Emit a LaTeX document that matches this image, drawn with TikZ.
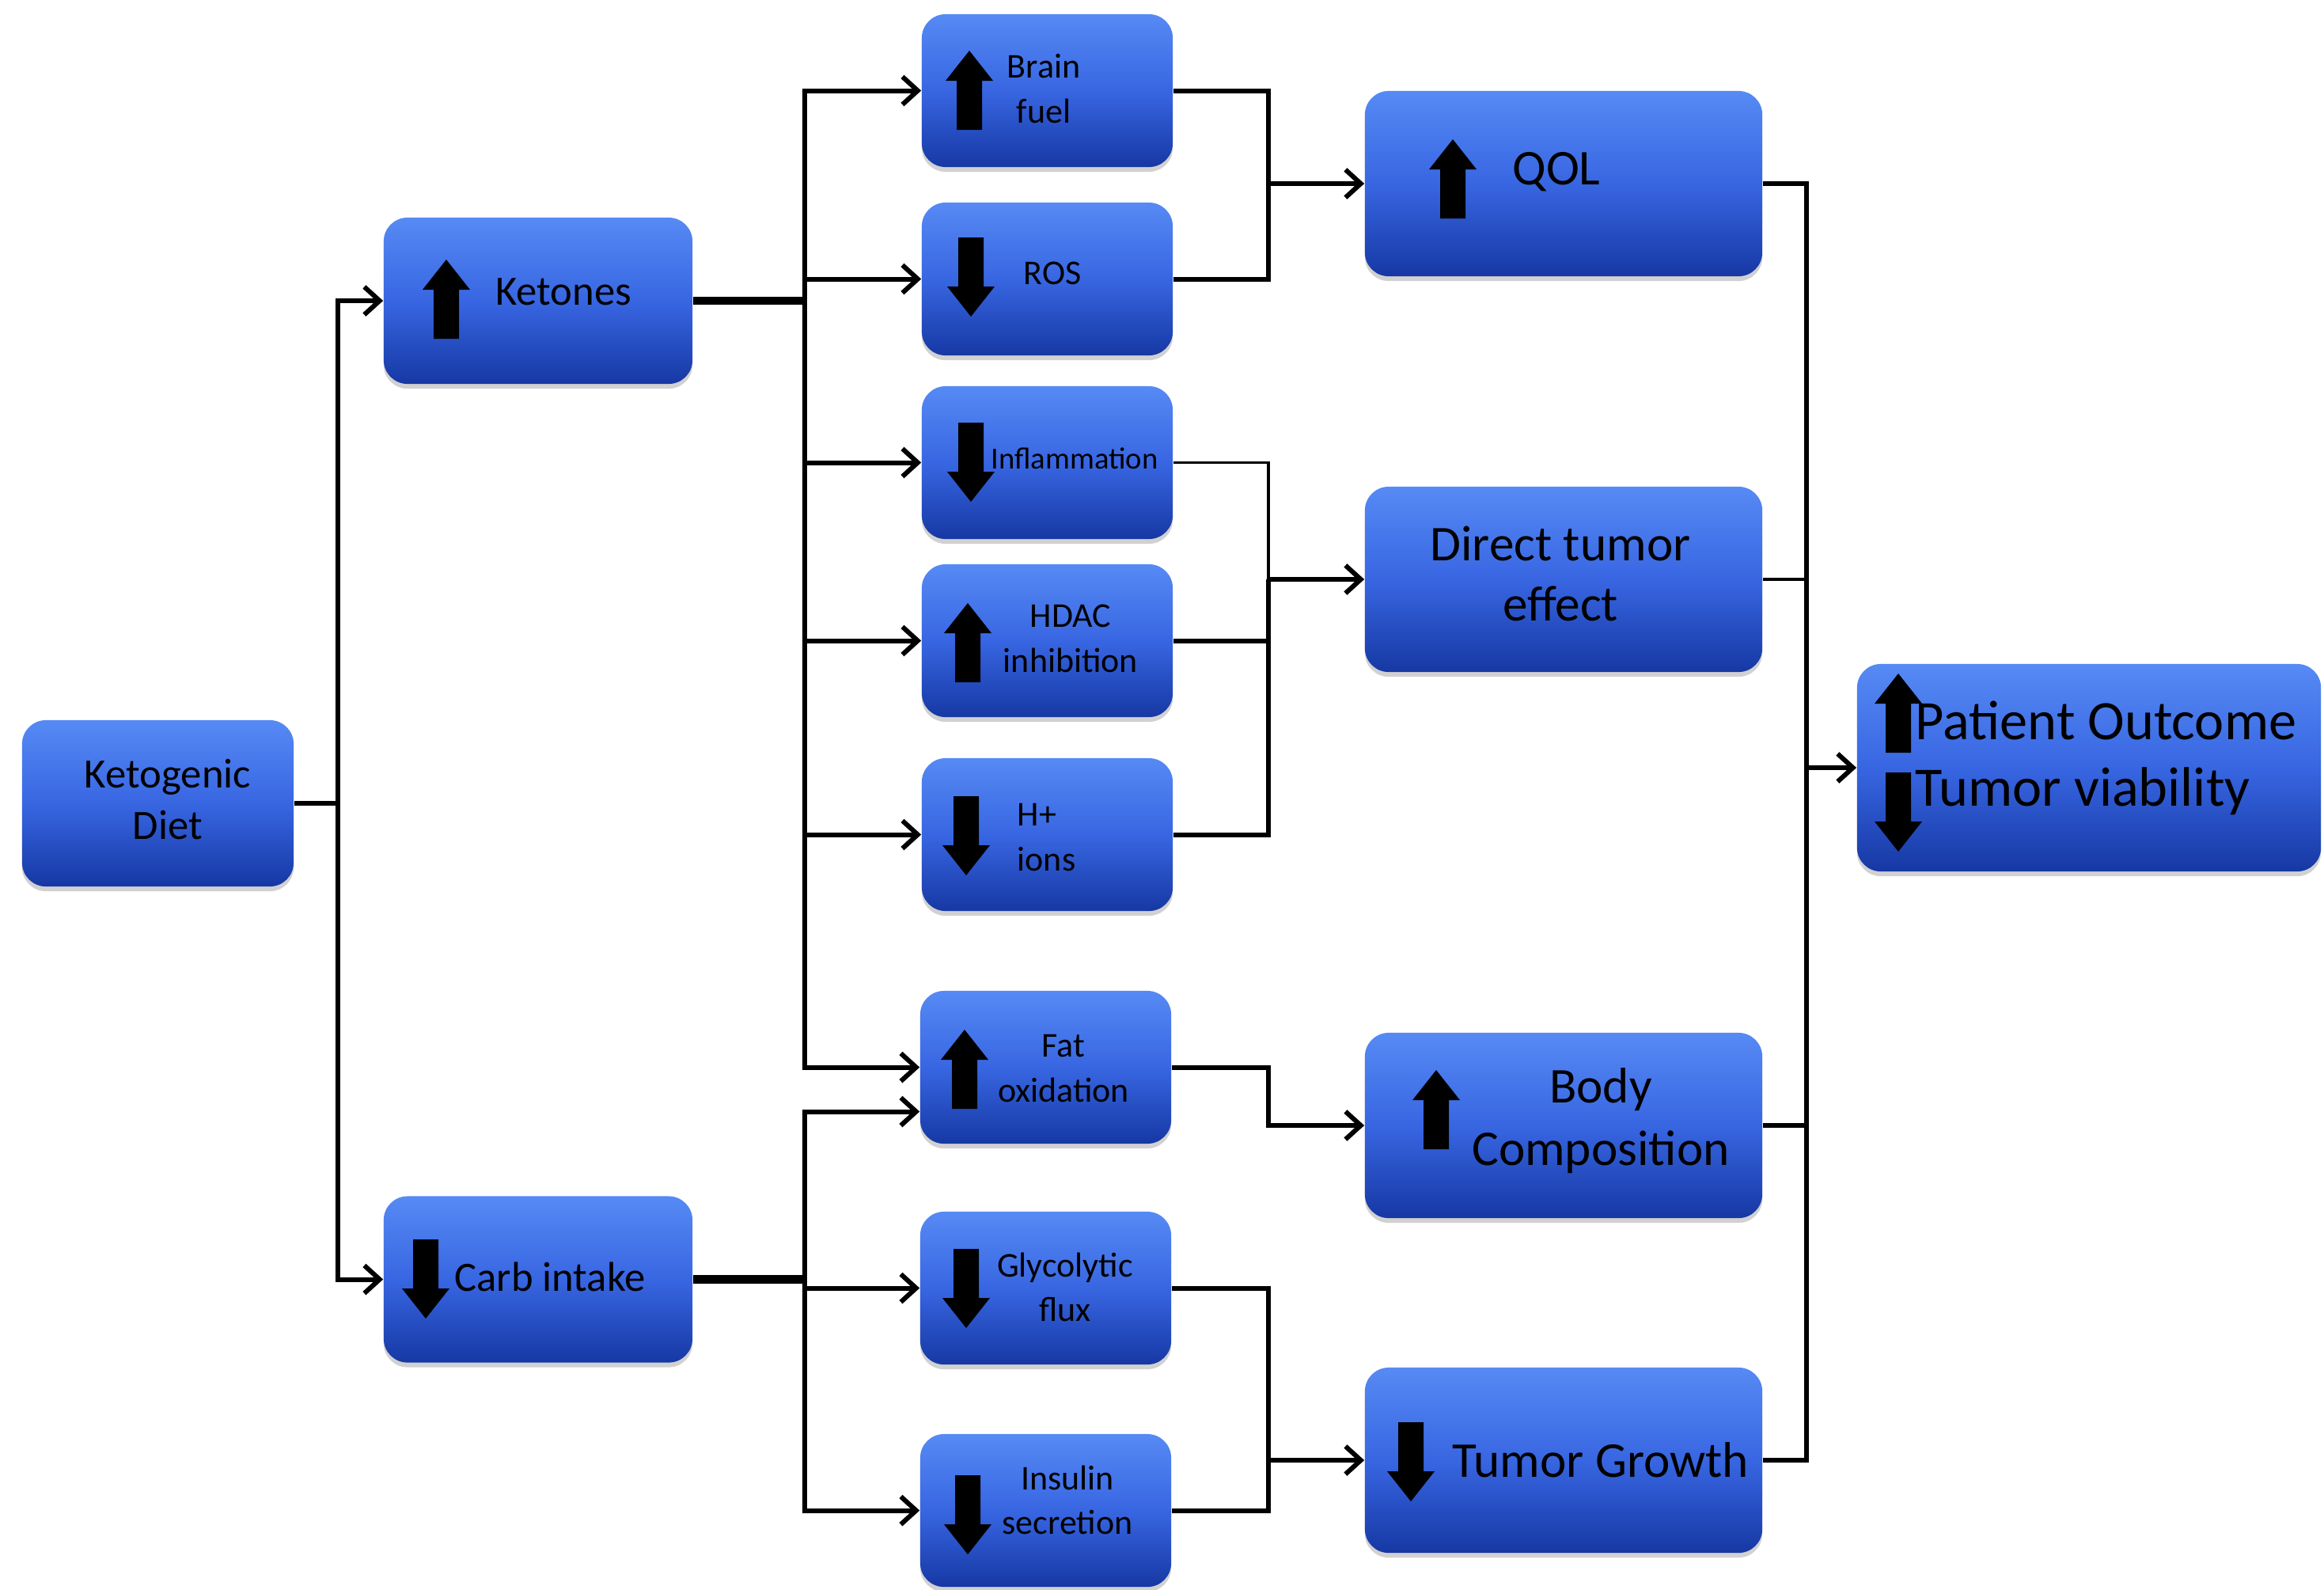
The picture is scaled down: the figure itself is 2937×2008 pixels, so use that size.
\documentclass[tikz,border=0pt]{standalone}
\usepackage{fontspec}
\setmainfont{Carlito}
\usetikzlibrary{arrows.meta,shadows,calc}
\definecolor{boxtop}{RGB}{86,138,244}
\definecolor{boxmid}{RGB}{56,102,226}
\definecolor{boxbot}{RGB}{22,56,164}
\newcommand\setfs[2]{\fontsize{#1}{#2}\selectfont}
\begin{document}
\begin{tikzpicture}[x=0.01cm,y=-0.01cm,
  box/.style={rounded corners=0.3cm, inner sep=0pt, top color=boxtop, bottom color=boxbot, middle color=boxmid,
    drop shadow={shadow xshift=0pt, shadow yshift=-0.06cm, opacity=0.3, fill=black!60}},
  sbox/.style={box, minimum width=3.17cm, minimum height=1.93cm},
  bbox/.style={box, minimum width=5.02cm, minimum height=2.34cm},
  mbox/.style={box, minimum width=3.90cm, minimum height=2.10cm},
  txt/.style={inner sep=0pt, align=center, text=black},
  stxt/.style={txt, font=\setfs{12.5}{16}},
  mtxt/.style={txt, font=\setfs{15}{18.5}},
  btxt/.style={txt, font=\setfs{18}{21.5}},
  conn/.style={line width=1.7pt},
  thinconn/.style={line width=0.9pt},
  thickconn/.style={line width=3pt},
  arr/.style={conn, -{Straight Barb[length=5.5pt,width=10pt,line width=1.7pt]}},
  uparr/.pic={\fill[black] (-16,50) -- (-16,-12) -- (-30,-12) -- (0,-50) -- (30,-12) -- (16,-12) -- (16,50) -- cycle;},
  dnarr/.pic={\fill[black] (-16,-50) -- (-16,12) -- (-30,12) -- (0,50) -- (30,12) -- (16,12) -- (16,-50) -- cycle;}
]
\useasboundingbox (0,0) rectangle (2937,2008);

% boxes
\node[box, minimum width=3.43cm, minimum height=2.10cm] (kd) at (199.5,1015) {};
\node[mbox] (ket) at (680,380) {};
\node[mbox] (carb) at (680,1616.5) {};
\node[sbox] (brain) at (1323.5,114.5) {};
\node[sbox] (ros) at (1323.5,352.5) {};
\node[sbox] (infl) at (1323.5,584.5) {};
\node[sbox] (hdac) at (1323.5,809.5) {};
\node[sbox] (hions) at (1323.5,1054.5) {};
\node[sbox] (fat) at (1321.5,1348.5) {};
\node[sbox] (glyc) at (1321.5,1627.5) {};
\node[sbox] (ins) at (1321.5,1908.5) {};
\node[bbox] (qol) at (1976,232) {};
\node[bbox] (dte) at (1976,732) {};
\node[bbox] (body) at (1976,1422) {};
\node[bbox] (tg) at (1976,1845) {};
\node[box, minimum width=5.86cm, minimum height=2.62cm] (po) at (2640,970) {};

% block arrows
\pic at (564,378) {uparr};
\pic at (538,1616) {dnarr};
\pic at (1225,114) {uparr};
\pic at (1227,350) {dnarr};
\pic at (1227,584) {dnarr};
\pic at (1223,812) {uparr};
\pic at (1221,1056) {dnarr};
\pic at (1219,1351) {uparr};
\pic at (1221,1628) {dnarr};
\pic at (1223,1914) {dnarr};
\pic at (1836,226) {uparr};
\pic at (1815,1402) {uparr};
\pic at (1783,1847) {dnarr};
\pic at (2399,901) {uparr};
\pic at (2399,1026) {dnarr};

% texts
\node[mtxt] (kd-t) at (212,1010) {Ketogenic\\Diet};
\node[mtxt] (ket-t) at (712,369) {Ketones};
\node[mtxt] (carb-t) at (695,1613) {Carb intake};
\node[stxt] (brain-t) at (1319,112) {Brain\\fuel};
\node[stxt] (ros-t) at (1330,345) {ROS};
\node[txt, font=\setfs{11}{14}] (infl-t) at (1358,579) {Inflammation};
\node[stxt] (hdac-t) at (1353,807) {HDAC\\inhibition};
\node[stxt, align=left, anchor=west] (hions-t) at (1285,1058) {H+\\ions};
\node[stxt] (fat-t) at (1344,1350) {Fat\\oxidation};
\node[stxt] (glyc-t) at (1346,1626) {Glycolytic\\flux};
\node[stxt] (ins-t) at (1349,1895) {Insulin\\secretion};
\node[btxt] (qol-t) at (1967,217) {QOL};
\node[btxt] (dte-t) at (1972,725) {Direct tumor\\effect};
\node[btxt, font=\setfs{18}{22.5}] (body-t) at (2023,1416) {Body\\Composition};
\node[btxt] (tg-t) at (2023,1845) {Tumor Growth};
\node[txt, align=left, anchor=west, font=\setfs{20}{24}] (po-t) at (2420,958) {Patient Outcome\\Tumor viability};

% bus coordinates
\coordinate (bA) at (427,0);
\coordinate (bB) at (1017,0);
\coordinate (bC) at (1603,0);
\coordinate (bD) at (2283,0);

% diet -> ketones / carb
\draw[conn] (kd.east) -- (kd.east -| bA);
\draw[arr] (kd.east -| bA) |- (ket.west);
\draw[arr] (kd.east -| bA) |- (carb.west);

% ketones fan-out
\draw[thickconn] (ket.east) -- (ket.east -| bB);
\draw[arr] (ket.east -| bB) |- (brain.west);
\draw[arr] (ket.east -| bB) |- (ros.west);
\draw[arr] (ket.east -| bB) |- (infl.west);
\draw[arr] (ket.east -| bB) |- (hdac.west);
\draw[arr] (ket.east -| bB) |- (hions.west);
\draw[arr] (ket.east -| bB) |- (fat.west);

% carb fan-out
\draw[thickconn] (carb.east) -- (carb.east -| bB);
\draw[arr] (carb.east -| bB) |- ($(fat.west)+(0,56)$);
\draw[arr] (carb.east -| bB) |- (glyc.west);
\draw[arr] (carb.east -| bB) |- (ins.west);

% to QOL
\draw[conn] (brain.east) -| (bC |- qol.west);
\draw[conn] (ros.east) -| (bC |- qol.west);
\draw[arr] (bC |- qol.west) -- (qol.west);

% to direct tumor effect
\draw[thinconn] (infl.east) -| (bC |- dte.west);
\draw[conn] (hdac.east) -| (bC |- dte.west);
\draw[conn] (hions.east) -| (bC |- dte.west);
\draw[arr] (bC |- dte.west) -- (dte.west);

% to body composition
\draw[arr] (fat.east) -| (bC |- body.west) -- (body.west);

% to tumor growth
\draw[conn] (glyc.east) -| (bC |- tg.west);
\draw[conn] (ins.east) -| (bC |- tg.west);
\draw[arr] (bC |- tg.west) -- (tg.west);

% to patient outcome
\draw[conn] (qol.east) -| (bD |- po.west);
\draw[thinconn] (dte.east) -| (bD |- po.west);
\draw[conn] (body.east) -| (bD |- po.west);
\draw[conn] (tg.east) -| (bD |- po.west);
\draw[arr] (bD |- po.west) -- (po.west);
\end{tikzpicture}
\end{document}
